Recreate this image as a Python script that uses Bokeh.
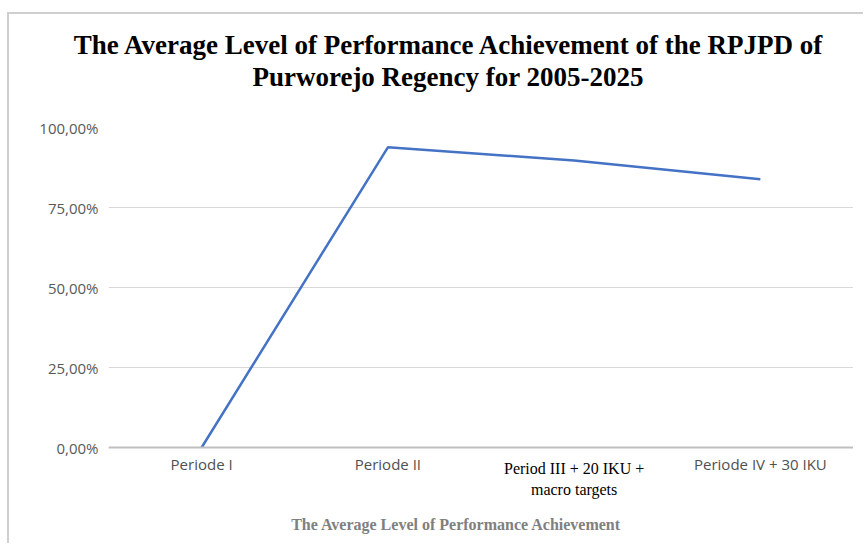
from bokeh.plotting import figure
from bokeh.models import Range1d, Label, FixedTicker, Span, Div
from bokeh.layouts import column
from bokeh.core.properties import value
from bokeh.embed import file_html
from bokeh.resources import INLINE

# ---- data ----
categories = ["Periode I", "Periode II", "Period III + 20 IKU + macro targets", "Periode IV + 30 IKU"]
values = [0.0, 93.8, 89.7, 83.8]
y_ticks = [0, 25, 50, 75, 100]
y_tick_labels = ["0,00%", "25,00%", "50,00%", "75,00%", "100,00%"]
x_label_texts = ["Periode I", "Periode II", "Period III + 20 IKU +\nmacro targets", "Periode IV + 30 IKU"]
serif_idx = 2
title_lines = ["The Average Level of Performance Achievement of the RPJPD of",
               "Purworejo Regency for 2005-2025"]
bottom_title = "The Average Level of Performance Achievement"

xs = list(range(len(categories)))
sans_x = [i for i in xs if i != serif_idx]
sans_t = [x_label_texts[i] for i in sans_x]

W = 844
border = "2px solid #cfcfcf"

title_div = Div(
    text=('<div style="display:block; width:844px; margin:0; padding-top:10px; position:relative; left:12px; '
          'text-align:center; font-family:\'Liberation Serif\'; font-weight:bold; font-size:27px; '
          'line-height:32px; color:black;">'
          + "<br>".join(title_lines) + "</div>"),
    width=W, height=89)

H = 430
p = figure(width=W, height=H, output_backend="svg", toolbar_location=None,
           x_range=Range1d(-0.5, len(categories) - 0.5), y_range=Range1d(-30, 100),
           x_axis_location=None,
           min_border_left=99, min_border_right=0, min_border_top=14, min_border_bottom=0)
p.outline_line_color = None

# y axis
p.yaxis.ticker = FixedTicker(ticks=y_ticks)
p.yaxis.major_label_overrides = {tk: l for tk, l in zip(y_ticks, y_tick_labels)}
p.yaxis.axis_line_color = None
p.yaxis.major_tick_line_color = None
p.yaxis.minor_tick_line_color = None
p.yaxis.major_label_text_font = "Open Sans"
p.yaxis.major_label_text_font_size = "15px"
p.yaxis.major_label_text_color = "#595959"
p.yaxis.major_label_standoff = 4
for g in p.grid:
    if g.dimension == 0:
        g.visible = False
    else:
        g.grid_line_color = "#d9d9d9"
        g.grid_line_width = 1

# category axis line at zero
p.add_layout(Span(location=y_ticks[0], dimension="width", line_color="#bfbfbf", line_width=2))

# data line
p.line(xs, values, line_color="#4472c4", line_width=2.5)

# category labels
p.text(x=sans_x, y=[y_ticks[0]] * len(sans_x), text=sans_t, y_offset=6,
       text_font=value("Open Sans"), text_font_size="15px", text_color="#505050",
       text_align="center", text_baseline="top")
p.text(x=[serif_idx], y=[y_ticks[0]], text=[x_label_texts[serif_idx]], y_offset=12,
       text_font=value("Liberation Serif"), text_font_size="16px", text_color="black",
       text_align="center", text_baseline="top", text_line_height=1.25)

# bottom axis title
p.add_layout(Label(x=348, y=19, x_units="screen", y_units="screen", text=bottom_title,
                   text_font="Liberation Serif", text_font_style="bold", text_font_size="16px",
                   text_color="#808080", text_align="center", text_baseline="middle"))

layout = column(title_div, p, spacing=0,
                styles={"margin-left": "7px", "margin-top": "12px",
                        "border-left": border, "border-top": border})
open("out.html", "w").write(file_html(layout, INLINE))
